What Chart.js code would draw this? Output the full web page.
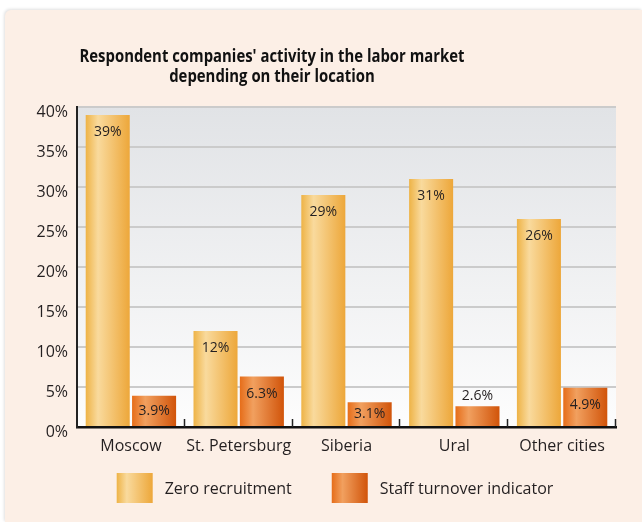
<!DOCTYPE html>
<html>
<head>
<meta charset="utf-8">
<script src="https://cdn.jsdelivr.net/npm/chart.js@4.4.1/dist/chart.umd.min.js"></script>
<style>
  html, body { margin: 0; padding: 0; background: #ffffff; }
  .card {
    position: absolute; left: 5px; top: 10px; width: 637px; height: 512px;
    background: #fcefe6; border-top-left-radius: 6px;
    box-shadow: -1px -1px 3px rgba(0, 0, 0, 0.12);
  }
  #chart { position: absolute; left: 0; top: 0; }
</style>
</head>
<body>
<div class="card"></div>
<canvas id="chart" width="642" height="522"></canvas>
<script>
const titleLines = [
  "Respondent companies' activity in the labor market",
  "depending on their location",
];
const categories = ["Moscow", "St. Petersburg", "Siberia", "Ural", "Other cities"];
const seriesNames = ["Zero recruitment", "Staff turnover indicator"];
const zeroRecruitment = [39, 12, 29, 31, 26];
const staffTurnover = [3.9, 6.3, 3.1, 2.6, 4.9];
const yTickValues = [0, 5, 10, 15, 20, 25, 30, 35, 40];

const FONT = "'Open Sans', 'Noto Sans', sans-serif";
const TEXT = "#231f20";
const CAT_PCT = 0.86;
const BAR_PCT = 0.95;

// horizontal "cylinder" shading for each series
const shades = [
  [[0, "#eeb346"], [0.28, "#f9da9d"], [1, "#eda73a"]],
  [[0, "#e66d19"], [0.3, "#f1a05f"], [1, "#d1540a"]],
];

function hGradient(ctx, x0, x1, stops) {
  const g = ctx.createLinearGradient(x0, 0, x1, 0);
  stops.forEach(([o, c]) => g.addColorStop(o, c));
  return g;
}

function barFill(c) {
  const stops = shades[c.datasetIndex];
  const xs = c.chart.scales.x;
  if (c.type !== "data" || !xs || !c.chart.chartArea) return stops[2][1];
  const catW = xs.width / categories.length;
  const slot = (catW * CAT_PCT) / 2;
  const w = slot * BAR_PCT;
  const cx = xs.getPixelForValue(c.dataIndex) + (c.datasetIndex === 0 ? -slot / 2 : slot / 2);
  return hGradient(c.chart.ctx, cx - w / 2, cx + w / 2, stops);
}

// grey-to-white plot background
const plotBackground = {
  id: "plotBackground",
  beforeDraw(chart) {
    const { ctx, chartArea: a } = chart;
    const g = ctx.createLinearGradient(0, a.top, 0, a.bottom);
    g.addColorStop(0, "#e1e3e6");
    g.addColorStop(1, "#fdfdfd");
    ctx.save();
    ctx.fillStyle = g;
    ctx.fillRect(a.left, a.top, a.right - a.left, a.bottom - a.top);
    ctx.restore();
  },
};

// value labels: inside the bar near its top, above it when the bar is short
const valueLabels = {
  id: "valueLabels",
  afterDatasetsDraw(chart) {
    const { ctx } = chart;
    ctx.save();
    ctx.font = "14px " + FONT;
    ctx.fillStyle = TEXT;
    ctx.textAlign = "center";
    ctx.textBaseline = "middle";
    chart.data.datasets.forEach((ds, di) => {
      chart.getDatasetMeta(di).data.forEach((el, i) => {
        const h = el.base - el.y;
        const ty = h >= 22 ? Math.min(el.y + 17, (el.y + el.base) / 2) : el.y - 10;
        ctx.fillText(ds.data[i] + "%", el.x, ty);
      });
    });
    ctx.restore();
  },
};

// short tick marks between categories, standing on the axis
const categoryTicks = {
  id: "categoryTicks",
  afterDatasetsDraw(chart) {
    const { ctx, chartArea: a } = chart;
    const xs = chart.scales.x;
    const half = xs.width / categories.length / 2;
    ctx.save();
    ctx.strokeStyle = "#222";
    ctx.lineWidth = 1.5;
    categories.forEach((_, i) => {
      const bx = Math.round(xs.getPixelForValue(i) + half) - 0.5;
      ctx.beginPath();
      ctx.moveTo(bx, a.bottom);
      ctx.lineTo(bx, a.bottom - 8);
      ctx.stroke();
    });
    ctx.restore();
  },
};

// condensed bold title over the plot
const titleBlock = {
  id: "titleBlock",
  afterDraw(chart) {
    const { ctx } = chart;
    ctx.save();
    ctx.font = "bold 18px " + FONT;
    ctx.fillStyle = "#111";
    ctx.textBaseline = "middle";
    ctx.textAlign = "center";
    const sx = 385 / ctx.measureText(titleLines[0]).width;
    titleLines.forEach((line, i) => {
      ctx.save();
      ctx.translate(272, 57 + i * 20);
      ctx.scale(sx, 1);
      ctx.fillText(line, 0, 0);
      ctx.restore();
    });
    ctx.restore();
  },
};

// legend row under the axis
const legendRow = {
  id: "legendRow",
  afterDraw(chart) {
    const { ctx } = chart;
    const boxW = 36, boxH = 30, gap = 12, spacing = 40, cy = 488;
    ctx.save();
    ctx.font = "16px " + FONT;
    ctx.textBaseline = "middle";
    ctx.textAlign = "left";
    const widths = seriesNames.map((s) => ctx.measureText(s).width);
    const total = widths.reduce((s, w) => s + boxW + gap + w, 0) + spacing * (seriesNames.length - 1);
    let x = 335 - total / 2;
    seriesNames.forEach((name, i) => {
      ctx.fillStyle = hGradient(ctx, x, x + boxW, shades[i]);
      ctx.fillRect(x, cy - boxH / 2, boxW, boxH);
      ctx.fillStyle = TEXT;
      ctx.fillText(name, x + boxW + gap, cy + 1);
      x += boxW + gap + widths[i] + spacing;
    });
    ctx.restore();
  },
};

new Chart(document.getElementById("chart").getContext("2d"), {
  type: "bar",
  data: {
    labels: categories,
    datasets: [
      { label: seriesNames[0], data: zeroRecruitment },
      { label: seriesNames[1], data: staffTurnover },
    ].map((d) => ({
      ...d,
      backgroundColor: barFill,
      borderWidth: 0,
      categoryPercentage: CAT_PCT,
      barPercentage: BAR_PCT,
    })),
  },
  options: {
    responsive: false,
    animation: false,
    layout: { padding: { left: 0, right: 26, top: 107, bottom: 65 } },
    plugins: {
      legend: { display: false },
      title: { display: false },
      tooltip: { enabled: false },
    },
    scales: {
      x: {
        grid: { drawOnChartArea: false, drawTicks: false },
        border: { color: "#111", width: 2.5 },
        ticks: {
          color: TEXT,
          font: { size: 16, family: FONT },
          padding: 10,
          maxRotation: 0,
          minRotation: 0,
          autoSkip: false,
        },
        afterFit(s) { s.height = 30; },
      },
      y: {
        min: 0,
        max: 40,
        afterBuildTicks(s) { s.ticks = yTickValues.map((v) => ({ value: v })); },
        grid: { color: "#cbcbcb", lineWidth: 2, drawTicks: false },
        border: { color: "#222", width: 2 },
        ticks: {
          color: TEXT,
          font: { size: 16, family: FONT },
          padding: 9,
          labelOffset: 5,
          callback: (v) => v + "%",
        },
        afterFit(s) { s.width = 77; },
      },
    },
  },
  plugins: [plotBackground, valueLabels, categoryTicks, titleBlock, legendRow],
});
</script>
</body>
</html>
